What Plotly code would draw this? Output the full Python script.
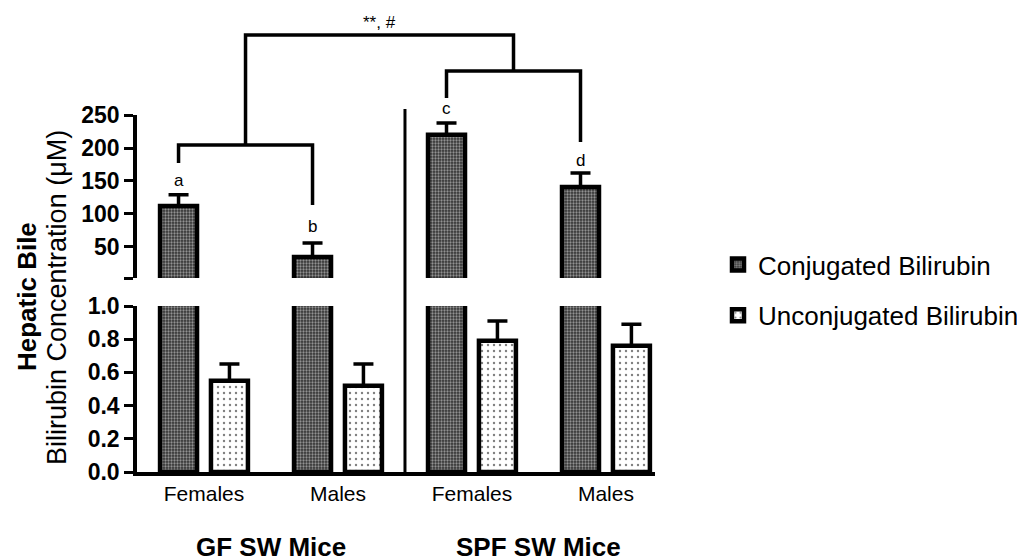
import plotly.graph_objects as go

# ---- data ----
groups = ["GF Females", "GF Males", "SPF Females", "SPF Males"]
tick_labels = ["Females", "Males", "Females", "Males"]
conj = [112, 35, 220, 141]
conj_err = [17, 21, 18, 21]
unconj = [0.55, 0.52, 0.79, 0.76]
unconj_err = [0.10, 0.13, 0.12, 0.13]
letters = ["a", "b", "c", "d"]
upper_ticks = [50, 100, 150, 200, 250]
lower_ticks = [0.0, 0.2, 0.4, 0.6, 0.8, 1.0]
strain_labels = ["GF SW Mice", "SPF SW Mice"]

OFF = 0.38
W = 0.276
xc = [float(i) for i in range(len(groups))]
xu = [x + OFF for x in xc]
xmid = [x + OFF / 2 for x in xc]

conj_pat = dict(shape=".", size=3, solidity=0.45, fgcolor="#f2f2f2", bgcolor="#333333")
unconj_pat = dict(shape=".", size=6, solidity=0.12, fgcolor="black", bgcolor="white")
line = dict(color="black", width=4.5)

fig = go.Figure()
# lower segment
fig.add_trace(go.Bar(x=xc, y=conj, width=W, name="Conjugated Bilirubin", legendgroup="c",
                     marker=dict(color="#333333", pattern=conj_pat, line=line),
                     xaxis="x", yaxis="y"))
fig.add_trace(go.Bar(x=xu, y=unconj, width=W, name="Unconjugated Bilirubin", legendgroup="u",
                     marker=dict(color="white", pattern=unconj_pat, line=line),
                     error_y=dict(type="data", symmetric=False, array=unconj_err,
                                  arrayminus=[0] * 4, color="black", thickness=3.5, width=10),
                     xaxis="x", yaxis="y"))
# upper segment
fig.add_trace(go.Bar(x=xc, y=conj, width=W, name="Conjugated Bilirubin", legendgroup="c",
                     showlegend=False,
                     marker=dict(color="#333333", pattern=conj_pat, line=line),
                     error_y=dict(type="data", symmetric=False, array=conj_err,
                                  arrayminus=[0] * 4, color="black", thickness=3.5, width=10),
                     xaxis="x", yaxis="y2"))

# page pixel geometry (body has an 8px offset)
PL, PR, PT, PB = 137, 655, 115, 472
PW, PH = PR - PL, PB - PT

axis_font = dict(family="Arial", size=23, color="black", weight="bold")
fig.update_layout(
    width=1025, height=560,
    margin=dict(l=PL - 8, r=1025 - (PR - 8), t=PT - 8, b=560 - (PB - 8), autoexpand=False),
    plot_bgcolor="white", paper_bgcolor="white",
    barmode="overlay",
    showlegend=True,
    legend=dict(x=(718 - PL) / PW, xanchor="left", y=(PB - 290) / PH, yanchor="middle",
                font=dict(family="Arial", size=26, color="black"),
                traceorder="grouped", tracegroupgap=14, itemwidth=30),
    xaxis=dict(range=[-0.31, 3.556], showline=True, linecolor="black", linewidth=3.5,
               showgrid=False, zeroline=False, ticks="",
               tickvals=xmid, ticktext=tick_labels,
               tickfont=dict(family="Arial", size=21, color="black")),
    yaxis=dict(domain=[0, (PB - 306) / PH], range=[0, 1.0], showline=True, linecolor="black",
               linewidth=3.5, showgrid=False, zeroline=False, ticks="outside",
               ticklen=9, tickwidth=3, tickcolor="black",
               tickvals=lower_ticks, ticktext=[f"{v:.1f}" for v in lower_ticks],
               tickfont=axis_font),
    yaxis2=dict(domain=[(PB - 278) / PH, 1.0], range=[3, 250], showline=True, linecolor="black",
                linewidth=3.5, showgrid=False, zeroline=False, ticks="outside",
                ticklen=9, tickwidth=3, tickcolor="black", anchor="x",
                tickvals=[3] + upper_ticks, ticktext=[""] + [str(v) for v in upper_ticks],
                tickfont=axis_font),
)

def py(px):
    return (PB - px) / PH

def pxx(px):
    return (px - PL) / PW

# divider
xdiv = (xu[1] + xc[2]) / 2
fig.add_shape(type="line", xref="x", yref="paper", x0=xdiv, x1=xdiv, y0=0, y1=py(109),
              line=dict(color="black", width=3))

bl = dict(color="black", width=3.5)
def bracket(xa, xb, yh, ya, yb):
    fig.add_shape(type="path", xref="x", yref="paper",
                  path=f"M {xa},{ya} L {xa},{yh} L {xb},{yh} L {xb},{yb}", line=bl)

# GF bracket
bracket(xc[0], xc[1], py(145), py(163), py(205))
# SPF bracket
bracket(xc[2], xc[3], py(71), py(98), py(142))
# top bracket
gf_mid = (xc[0] + xc[1]) / 2
spf_mid = (xc[2] + xc[3]) / 2
bracket(gf_mid, spf_mid, py(35), py(145), py(71))
fig.add_annotation(x=(gf_mid + spf_mid) / 2, xref="x", y=py(22), yref="paper",
                   text="**, #", showarrow=False, yanchor="middle",
                   font=dict(family="Arial", size=17, color="black"))

letter_y = [180, 226, 108, 160]
for x, t, ly in zip(xc, letters, letter_y):
    fig.add_annotation(x=x, xref="x", y=py(ly), yref="paper", text=t, showarrow=False,
                       yanchor="middle", font=dict(family="Arial", size=17, color="black"))

for i, lab in enumerate(strain_labels):
    cx = (xmid[2 * i] + xmid[2 * i + 1]) / 2
    fig.add_annotation(x=cx, xref="x", y=py(547), yref="paper", text=f"<b>{lab}</b>",
                       showarrow=False, yanchor="middle",
                       font=dict(family="Arial", size=26, color="black"))

fig.add_annotation(x=pxx(27), xref="paper", y=py(297), yref="paper", text="<b>Hepatic Bile</b>",
                   textangle=-90, showarrow=False, xanchor="center", yanchor="middle",
                   font=dict(family="Arial", size=26, color="black"))
fig.add_annotation(x=pxx(57), xref="paper", y=py(298), yref="paper",
                   text="Bilirubin Concentration (μM)", textangle=-90, showarrow=False,
                   xanchor="center", yanchor="middle",
                   font=dict(family="Arial", size=27, color="black"))

fig.write_html("out.html")
